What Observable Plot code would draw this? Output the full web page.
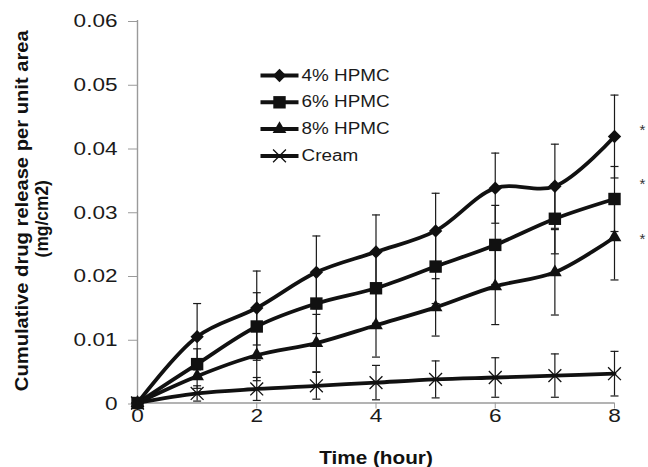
<!DOCTYPE html>
<html>
<head>
<meta charset="utf-8">
<script src="https://cdn.jsdelivr.net/npm/d3@7"></script>
<script src="https://cdn.jsdelivr.net/npm/@observablehq/plot@0.6"></script>
<style>
  html, body { margin: 0; padding: 0; background: #fff; }
  #chart svg { display: block; }
</style>
</head>
<body>
<div id="chart"></div>
<script>
// ---- data ----
const hours = [0, 1, 2, 3, 4, 5, 6, 7, 8];
const seriesNames = ["4% HPMC", "6% HPMC", "8% HPMC", "Cream"];
const hpmc4   = [0, 0.0104, 0.0149, 0.0205, 0.0237, 0.0270, 0.0337, 0.0340, 0.0418];
const hpmc4Sd = [0, 0.0052, 0.0058, 0.0057, 0.0058, 0.0059, 0.0055, 0.0066, 0.0065];
const hpmc6   = [0, 0.0061, 0.0120, 0.0156, 0.0180, 0.0214, 0.0248, 0.0289, 0.0320];
const hpmc6Sd = [0, 0.0024, 0.0053, 0.0047, 0.0055, 0.0058, 0.0062, 0.0055, 0.0051];
const hpmc8   = [0, 0.0042, 0.0075, 0.0094, 0.0122, 0.0150, 0.0183, 0.0205, 0.0260];
const hpmc8Sd = [0, 0.0019, 0.0040, 0.0045, 0.0050, 0.0045, 0.0060, 0.0067, 0.0067];
const cream   = [0, 0.0015, 0.0022, 0.0027, 0.0032, 0.0037, 0.0040, 0.0043, 0.0046];
const creamSd = [0, 0.0012, 0.0018, 0.0021, 0.0027, 0.0029, 0.0031, 0.0034, 0.0035];
const asteriskY = [0.0434, 0.0349, 0.0264];   // significance marks right of t = 8
const asteriskX = [8, 8, 8];
const xTicks = [0, 2, 4, 6, 8];
const yTicks = [0, 0.01, 0.02, 0.03, 0.04, 0.05, 0.06];
const xTitle = "Time (hour)";
const yTitle1 = "Cumulative drug release per unit area";
const yTitle2 = "(mg/cm2)";

// ---- table built from the arrays ----
const means = [hpmc4, hpmc6, hpmc8, cream];
const sds = [hpmc4Sd, hpmc6Sd, hpmc8Sd, creamSd];
const rows = seriesNames.flatMap((s, i) =>
  hours.map((t, j) => ({series: s, t, v: means[i][j], sd: sds[i][j]})));
const errRows = rows.filter(d => d.sd > 0);
const capRows = errRows.flatMap(d => [{t: d.t, y: d.v + d.sd}, {t: d.t, y: d.v - d.sd}]);

// ---- styles ----
const ink = "#111";
const axisGray = "#9a9a9a";
const lineSym = {draw(ctx) { ctx.moveTo(-19, 0); ctx.lineTo(19, 0); }};
const capSym = {draw(ctx) { ctx.moveTo(-4, 0); ctx.lineTo(4, 0); }};
const markerStyle = [
  {symbol: "diamond2", r: 6.0, fill: ink, stroke: "none"},
  {symbol: "square", r: 7.0, fill: ink, stroke: "none"},
  {symbol: "triangle", r: 5.1, fill: ink, stroke: "none"},
  {symbol: "times", r: 5.9, fill: "none", stroke: ink, strokeWidth: 1.3}
];

const marks = [
  Plot.ruleX([0], {stroke: axisGray, strokeWidth: 1.4}),
  Plot.ruleY([0], {stroke: axisGray, strokeWidth: 1.4}),
  Plot.axisY({ticks: yTicks, tickSize: 9, tickPadding: 11, stroke: axisGray, fill: "#1a1a1a",
    fontSize: 18.5, tickFormat: d => d === 0 ? "0" : d.toFixed(2), label: null, dy: 1}),
  Plot.axisX({ticks: xTicks, tickSize: 6, tickPadding: 0, stroke: axisGray, fill: "#1a1a1a",
    fontSize: 18.5, tickFormat: d => String(d), label: null}),
  // error bars
  Plot.ruleX(errRows, {x: "t", y1: d => d.v - d.sd, y2: d => d.v + d.sd, stroke: "#1a1a1a", strokeWidth: 1.2}),
  Plot.dot(capRows, {x: "t", y: "y", symbol: capSym, r: 4, stroke: "#1a1a1a", strokeWidth: 1.2, fill: "none"}),
  // series lines
  Plot.line(rows, {x: "t", y: "v", z: "series", curve: "catmull-rom", stroke: ink, strokeWidth: 3.8}),
  // markers
  ...seriesNames.map((s, i) => Plot.dot(rows.filter(d => d.series === s), {x: "t", y: "v", ...markerStyle[i]})),
  // significance asterisks
  Plot.text(asteriskY, {x: (d, i) => asteriskX[i], y: d => d, text: () => "*", dx: 28, dy: 4,
    fontSize: 15, fill: "#333"}),
  // axis titles
  Plot.text([xTitle], {frameAnchor: "bottom", text: d => d, dy: 55, fontSize: 18.5, fontWeight: "bold",
    fill: "#111", textAnchor: "middle", lineAnchor: "middle"}),
  Plot.text([yTitle1], {frameAnchor: "left", text: d => d, dx: -115, dy: -1, rotate: -90, fontSize: 18.5,
    fontWeight: "bold", fill: "#111", textAnchor: "middle", lineAnchor: "middle"}),
  Plot.text([yTitle2], {frameAnchor: "left", text: d => d, dx: -95.5, dy: 7, rotate: -90, fontSize: 18.5,
    fontWeight: "bold", fill: "#111", textAnchor: "middle", lineAnchor: "middle"}),
  // legend inside the plot
  ...seriesNames.flatMap((s, i) => {
    const dy = 55 + i * 26.8;
    return [
      Plot.dot([s], {frameAnchor: "top-left", dx: 142, dy, symbol: lineSym, r: 10, stroke: ink, strokeWidth: 4, fill: "none"}),
      Plot.dot([s], {frameAnchor: "top-left", dx: 142, dy, ...markerStyle[i]}),
      Plot.text([s], {frameAnchor: "top-left", dx: 164, dy, text: d => d, textAnchor: "start", lineAnchor: "middle",
        fontSize: 16, fill: "#1a1a1a"})
    ];
  })
];

const chart = Plot.plot({
  width: 648,
  height: 467,
  marginLeft: 137,
  marginRight: 34,
  marginTop: 20,
  marginBottom: 64.5,
  style: {fontFamily: "'Liberation Sans', Arial, Helvetica, sans-serif", background: "#fff", overflow: "visible"},
  x: {domain: [0, 8], axis: null},
  y: {domain: [0, 0.06], axis: null},
  marks
});
document.getElementById("chart").appendChild(chart);

// widen the text slightly to match the wide lettering of the reference
function widthFactor(s) {
  if (s === xTitle) return 1.12;
  if (s === yTitle1) return 1.09;
  if (s === yTitle2) return 0.94;
  if (seriesNames.includes(s)) return 1.18;
  if (/^[0-9.]+$/.test(s)) return 1.22;
  return 1;
}
chart.querySelectorAll("text").forEach(el => {
  const s = el.textContent.trim();
  const k = widthFactor(s);
  if (k === 1 || el.querySelector("tspan")) return;
  const L = el.getComputedTextLength();
  if (L > 0) {
    el.setAttribute("textLength", (L * k).toFixed(1));
    el.setAttribute("lengthAdjust", "spacingAndGlyphs");
  }
});
</script>
</body>
</html>
